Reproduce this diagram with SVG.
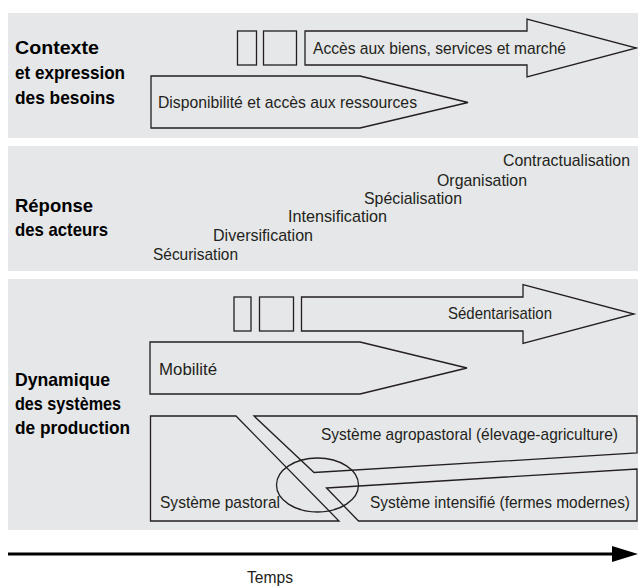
<svg xmlns="http://www.w3.org/2000/svg" width="638" height="586" viewBox="0 0 638 586">
<style>
.panel{fill:#e6e7e8;stroke:none}
.shape{fill:#e6e7e8;stroke:#231f20;stroke-width:1.3;stroke-linejoin:miter}
.none{fill:none;stroke:#231f20;stroke-width:1.3}
.t{font-family:"Liberation Sans",Arial,sans-serif;font-size:17px;fill:#231f20}
.b{font-family:"Liberation Sans",Arial,sans-serif;font-size:19px;font-weight:bold;fill:#000}
</style>
<defs>
<marker id="ah" markerWidth="26" markerHeight="16" refX="0" refY="0" viewBox="0 -8 26 16" markerUnits="userSpaceOnUse" orient="auto">
<path d="M0,-8 L26,0 L0,8 Z" fill="#000"/>
</marker>
</defs>
<g id="panels">
<rect class="panel" x="8" y="13" width="630" height="125"/>
<rect class="panel" x="8" y="146" width="630" height="125"/>
<rect class="panel" x="8" y="279" width="630" height="251"/>
</g>
<g id="label-contexte">
<text class="b" x="15" y="54" textLength="84" lengthAdjust="spacingAndGlyphs">Contexte</text>
<text class="b" x="15" y="79" textLength="110" lengthAdjust="spacingAndGlyphs">et expression</text>
<text class="b" x="15" y="104" textLength="100" lengthAdjust="spacingAndGlyphs">des besoins</text>
</g>
<g id="label-reponse">
<text class="b" x="15" y="212" textLength="78" lengthAdjust="spacingAndGlyphs">Réponse</text>
<text class="b" x="15" y="236" textLength="93" lengthAdjust="spacingAndGlyphs">des acteurs</text>
</g>
<g id="label-dynamique">
<text class="b" x="15" y="386" textLength="95" lengthAdjust="spacingAndGlyphs">Dynamique</text>
<text class="b" x="15" y="410" textLength="106" lengthAdjust="spacingAndGlyphs">des systèmes</text>
<text class="b" x="15" y="434" textLength="115" lengthAdjust="spacingAndGlyphs">de production</text>
</g>
<g id="arrow-acces">
<rect class="shape" x="237.5" y="31" width="19" height="34"/>
<rect class="shape" x="263.5" y="31" width="33" height="34"/>
<path class="shape" d="M305,31 H527 V19 L636.5,48 L527,77 V65 H305 Z"/>
<text class="t" x="313" y="54" textLength="253" lengthAdjust="spacingAndGlyphs">Accès aux biens, services et marché</text>
</g>
<g id="arrow-disponibilite">
<path class="shape" d="M151,76 H360 L468,102.5 L360,128 H151 Z"/>
<text class="t" x="158" y="108" textLength="259" lengthAdjust="spacingAndGlyphs">Disponibilité et accès aux ressources</text>
</g>
<g id="responses">
<text class="t" x="503" y="166" textLength="127" lengthAdjust="spacingAndGlyphs">Contractualisation</text>
<text class="t" x="437" y="186" textLength="90" lengthAdjust="spacingAndGlyphs">Organisation</text>
<text class="t" x="364" y="204" textLength="98" lengthAdjust="spacingAndGlyphs">Spécialisation</text>
<text class="t" x="288" y="222" textLength="99" lengthAdjust="spacingAndGlyphs">Intensification</text>
<text class="t" x="213" y="241" textLength="100" lengthAdjust="spacingAndGlyphs">Diversification</text>
<text class="t" x="153" y="260" textLength="85" lengthAdjust="spacingAndGlyphs">Sécurisation</text>
</g>
<g id="arrow-sedentarisation">
<rect class="shape" x="234" y="297" width="17" height="34"/>
<rect class="shape" x="259.5" y="297" width="34" height="34"/>
<path class="shape" d="M301.5,297 H523 V284.5 L634,314 L523,343.5 V331 H301.5 Z"/>
<text class="t" x="448" y="319" textLength="104" lengthAdjust="spacingAndGlyphs">Sédentarisation</text>
</g>
<g id="arrow-mobilite">
<path class="shape" d="M150,342 H360 L467,368 L360,394 H150 Z"/>
<text class="t" x="159" y="375" textLength="58" lengthAdjust="spacingAndGlyphs">Mobilité</text>
</g>
<g id="systeme-pastoral">
<path class="shape" d="M150.5,416 H236 L339,521 H150.5 Z"/>
<text class="t" x="160" y="508" textLength="120" lengthAdjust="spacingAndGlyphs">Système pastoral</text>
</g>
<g id="systeme-agropastoral">
<path class="shape" d="M254,416 H637 V453 L314,472.5 Z"/>
<text class="t" x="321" y="440" textLength="297" lengthAdjust="spacingAndGlyphs">Système agropastoral (élevage-agriculture)</text>
</g>
<g id="systeme-intensifie">
<path class="shape" d="M326.5,488 L637,469 V521 H358.5 Z"/>
<text class="t" x="370" y="508" textLength="260" lengthAdjust="spacingAndGlyphs">Système intensifié (fermes modernes)</text>
</g>
<g id="transition">
<ellipse class="none" cx="317.5" cy="485" rx="41" ry="27"/>
</g>
<g id="connectors">
<line x1="8" y1="554" x2="612" y2="554" stroke="#000" stroke-width="3" marker-end="url(#ah)"/>
</g>
<g id="label-temps">
<text class="t" x="270" y="583" text-anchor="middle" textLength="46" lengthAdjust="spacingAndGlyphs">Temps</text>
</g>
</svg>
